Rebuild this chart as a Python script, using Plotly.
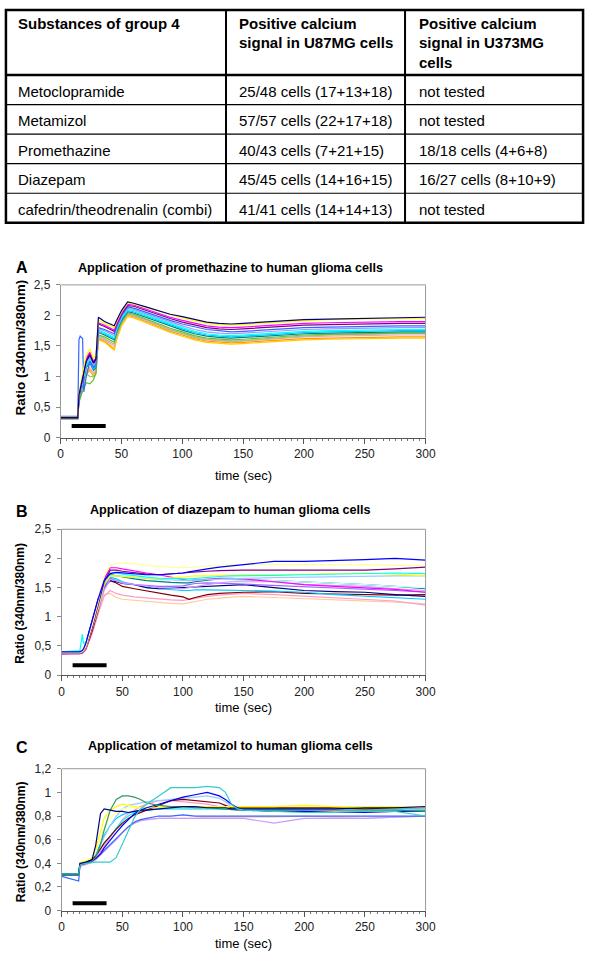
import plotly.graph_objects as go

# ---------------- table data ----------------
header_col1 = ["Substances of group 4"]
header_col2 = ["Positive calcium", "signal in U87MG cells"]
header_col3 = ["Positive calcium", "signal in U373MG", "cells"]
substances = ["Metoclopramide", "Metamizol", "Promethazine", "Diazepam",
              "cafedrin/theodrenalin (combi)"]
u87_signal = ["25/48 cells (17+13+18)", "57/57 cells (22+17+18)", "40/43 cells (7+21+15)",
              "45/45 cells (14+16+15)", "41/41 cells (14+14+13)"]
u373_signal = ["not tested", "not tested", "18/18 cells (4+6+8)", "16/27 cells (8+10+9)",
               "not tested"]

# ---------------- chart texts ----------------
panel_letters = ["A", "B", "C"]
panel_titles = ["Application of promethazine to human glioma cells",
                "Application of diazepam to human glioma cells",
                "Application of metamizol to human glioma cells"]
y_title = "Ratio (340nm/380nm)"
x_title = "time (sec)"

# application of substance (black bar): start / end time in sec, level per panel
application_window = [9, 37]
bar_levels = [0.19, 0.17, 0.062]

# ---------------- panel A: promethazine ----------------
t_A = [0, 14, 15, 16, 18, 19, 21, 24, 27, 29, 31, 36, 44, 46, 50, 55, 60, 70, 80, 90,
       100, 110, 120, 130, 140, 150, 165, 180, 200, 220, 240, 260, 280, 300]
A_orange = [0.30, 0.30, 0.60, 0.68, 0.80, 0.90, 1.05, 1.10, 1.00, 1.05, 1.62, 1.58, 1.45, 1.62, 1.85, 2.00, 1.98, 1.90, 1.82, 1.74, 1.68, 1.62, 1.58, 1.56, 1.55, 1.56, 1.58, 1.60, 1.62, 1.63, 1.64, 1.65, 1.65, 1.65]
A_gold = [0.30, 0.30, 0.62, 0.70, 0.82, 0.92, 1.08, 1.12, 1.02, 1.08, 1.60, 1.56, 1.43, 1.60, 1.83, 1.98, 1.96, 1.88, 1.80, 1.72, 1.66, 1.60, 1.56, 1.54, 1.53, 1.54, 1.56, 1.58, 1.60, 1.61, 1.62, 1.63, 1.63, 1.63]
A_rose = [0.31, 0.31, 0.60, 0.70, 0.84, 0.94, 1.10, 1.15, 1.05, 1.10, 1.64, 1.60, 1.50, 1.65, 1.87, 2.01, 1.99, 1.92, 1.84, 1.76, 1.70, 1.64, 1.60, 1.58, 1.57, 1.58, 1.60, 1.63, 1.65, 1.66, 1.67, 1.68, 1.68, 1.68]
A_lightgreen = [0.31, 0.31, 0.60, 0.70, 0.84, 0.92, 1.05, 1.00, 1.00, 1.08, 1.66, 1.62, 1.53, 1.68, 1.88, 2.02, 2.00, 1.93, 1.85, 1.77, 1.71, 1.65, 1.61, 1.59, 1.58, 1.59, 1.61, 1.64, 1.66, 1.68, 1.69, 1.70, 1.70, 1.70]
A_green = [0.31, 0.31, 0.58, 0.65, 0.75, 0.82, 0.90, 0.88, 0.95, 1.05, 1.68, 1.65, 1.56, 1.70, 1.90, 2.04, 2.02, 1.94, 1.87, 1.79, 1.73, 1.67, 1.63, 1.61, 1.60, 1.61, 1.63, 1.66, 1.68, 1.69, 1.70, 1.71, 1.71, 1.71]
A_teal = [0.32, 0.32, 0.62, 0.72, 0.86, 0.96, 1.15, 1.22, 1.10, 1.15, 1.72, 1.68, 1.60, 1.74, 1.92, 2.06, 2.04, 1.97, 1.90, 1.82, 1.76, 1.70, 1.66, 1.64, 1.63, 1.64, 1.66, 1.68, 1.70, 1.71, 1.72, 1.73, 1.73, 1.73]
A_sky = [0.31, 0.31, 0.63, 0.73, 0.88, 0.98, 1.18, 1.26, 1.12, 1.18, 1.74, 1.70, 1.62, 1.76, 1.94, 2.08, 2.06, 1.99, 1.92, 1.84, 1.78, 1.72, 1.68, 1.66, 1.65, 1.66, 1.68, 1.70, 1.72, 1.73, 1.74, 1.75, 1.75, 1.75]
A_cyan = [0.31, 0.31, 0.64, 0.74, 0.90, 1.00, 1.20, 1.30, 1.15, 1.22, 1.76, 1.72, 1.64, 1.78, 1.96, 2.10, 2.08, 2.01, 1.94, 1.86, 1.80, 1.74, 1.70, 1.68, 1.67, 1.68, 1.70, 1.72, 1.74, 1.75, 1.76, 1.77, 1.77, 1.77]
A_lavender = [0.32, 0.32, 0.65, 0.75, 0.92, 1.03, 1.22, 1.32, 1.18, 1.24, 1.78, 1.75, 1.67, 1.80, 1.98, 2.12, 2.10, 2.03, 1.96, 1.89, 1.83, 1.77, 1.73, 1.71, 1.70, 1.71, 1.73, 1.75, 1.77, 1.78, 1.79, 1.80, 1.80, 1.80]
A_blue = [0.35, 0.35, 1.60, 1.66, 1.62, 0.75, 1.00, 1.25, 1.15, 1.20, 1.80, 1.77, 1.70, 1.82, 2.00, 2.14, 2.12, 2.05, 1.99, 1.92, 1.86, 1.81, 1.77, 1.75, 1.73, 1.74, 1.76, 1.78, 1.80, 1.81, 1.82, 1.83, 1.83, 1.83]
A_purple = [0.32, 0.32, 0.66, 0.78, 0.95, 1.08, 1.28, 1.38, 1.22, 1.28, 1.86, 1.82, 1.74, 1.85, 2.02, 2.16, 2.15, 2.08, 2.02, 1.95, 1.89, 1.84, 1.80, 1.78, 1.77, 1.78, 1.80, 1.82, 1.84, 1.85, 1.86, 1.87, 1.87, 1.87]
A_magenta = [0.33, 0.33, 0.68, 0.80, 0.98, 1.10, 1.30, 1.40, 1.25, 1.30, 1.88, 1.84, 1.76, 1.87, 2.04, 2.18, 2.17, 2.10, 2.04, 1.97, 1.92, 1.87, 1.83, 1.81, 1.80, 1.81, 1.83, 1.85, 1.87, 1.88, 1.89, 1.90, 1.90, 1.90]
A_yellow = [0.34, 0.34, 0.72, 0.85, 1.05, 1.15, 1.35, 1.45, 1.30, 1.35, 1.92, 1.87, 1.80, 1.90, 2.06, 2.20, 2.19, 2.13, 2.07, 2.01, 1.96, 1.91, 1.87, 1.85, 1.84, 1.85, 1.87, 1.89, 1.91, 1.93, 1.94, 1.95, 1.95, 1.95]
A_navy = [0.33, 0.33, 0.70, 0.80, 0.95, 1.05, 1.25, 1.35, 1.22, 1.30, 1.97, 1.90, 1.83, 1.92, 2.08, 2.22, 2.20, 2.14, 2.08, 2.02, 1.98, 1.93, 1.89, 1.87, 1.86, 1.87, 1.89, 1.91, 1.93, 1.94, 1.95, 1.96, 1.97, 1.97]

# ---------------- panel B: diazepam ----------------
t_B = [0, 15, 17, 18, 20, 25, 30, 35, 40, 45, 50, 60, 70, 80, 90, 100, 105, 110, 120,
       130, 140, 150, 175, 200, 225, 250, 275, 300]
B_tan = [0.36, 0.36, 0.37, 0.39, 0.44, 0.72, 1.05, 1.38, 1.40, 1.33, 1.30, 1.28, 1.27, 1.25, 1.23, 1.22, 1.24, 1.27, 1.30, 1.32, 1.34, 1.35, 1.33, 1.31, 1.30, 1.28, 1.25, 1.22]
B_rose = [0.36, 0.36, 0.37, 0.39, 0.44, 0.70, 1.05, 1.35, 1.45, 1.40, 1.37, 1.34, 1.32, 1.30, 1.29, 1.28, 1.30, 1.32, 1.35, 1.37, 1.39, 1.40, 1.38, 1.35, 1.33, 1.30, 1.27, 1.20]
B_darkred = [0.37, 0.37, 0.38, 0.40, 0.45, 0.75, 1.10, 1.50, 1.62, 1.58, 1.52, 1.48, 1.44, 1.40, 1.37, 1.34, 1.30, 1.33, 1.38, 1.40, 1.41, 1.42, 1.43, 1.40, 1.39, 1.38, 1.37, 1.38]
B_sky = [0.40, 0.40, 0.42, 0.44, 0.50, 0.85, 1.20, 1.55, 1.68, 1.65, 1.60, 1.55, 1.50, 1.48, 1.46, 1.45, 1.45, 1.46, 1.46, 1.46, 1.46, 1.45, 1.44, 1.42, 1.38, 1.35, 1.33, 1.30]
B_navy = [0.38, 0.38, 0.40, 0.43, 0.55, 0.95, 1.30, 1.55, 1.62, 1.60, 1.57, 1.55, 1.50, 1.48, 1.49, 1.50, 1.51, 1.52, 1.52, 1.53, 1.54, 1.55, 1.50, 1.45, 1.43, 1.42, 1.38, 1.35]
B_violet = [0.38, 0.38, 0.39, 0.41, 0.47, 0.80, 1.15, 1.50, 1.66, 1.62, 1.58, 1.55, 1.53, 1.52, 1.52, 1.53, 1.55, 1.57, 1.58, 1.58, 1.57, 1.56, 1.54, 1.52, 1.50, 1.48, 1.45, 1.42]
B_lavender = [0.37, 0.37, 0.39, 0.40, 0.46, 0.78, 1.10, 1.45, 1.64, 1.62, 1.58, 1.55, 1.52, 1.50, 1.49, 1.48, 1.50, 1.52, 1.55, 1.58, 1.60, 1.60, 1.60, 1.55, 1.53, 1.52, 1.48, 1.45]
B_teal = [0.38, 0.38, 0.40, 0.42, 0.50, 0.85, 1.20, 1.55, 1.72, 1.70, 1.68, 1.65, 1.62, 1.60, 1.59, 1.58, 1.58, 1.60, 1.62, 1.65, 1.64, 1.63, 1.62, 1.60, 1.58, 1.55, 1.52, 1.48]
B_lightcyan = [0.39, 0.39, 0.41, 0.43, 0.50, 0.85, 1.22, 1.60, 1.76, 1.76, 1.74, 1.72, 1.70, 1.68, 1.66, 1.65, 1.64, 1.64, 1.64, 1.63, 1.63, 1.63, 1.62, 1.60, 1.58, 1.55, 1.52, 1.50]
B_magenta = [0.38, 0.38, 0.40, 0.42, 0.50, 0.85, 1.25, 1.65, 1.84, 1.84, 1.82, 1.78, 1.75, 1.72, 1.68, 1.65, 1.62, 1.63, 1.65, 1.66, 1.66, 1.65, 1.60, 1.55, 1.52, 1.50, 1.47, 1.42]
B_paleblue = [0.38, 0.38, 0.40, 0.42, 0.49, 0.82, 1.18, 1.55, 1.70, 1.70, 1.69, 1.68, 1.66, 1.64, 1.63, 1.62, 1.62, 1.63, 1.64, 1.65, 1.66, 1.66, 1.67, 1.68, 1.69, 1.70, 1.70, 1.70]
B_yellow = [0.38, 0.38, 0.40, 0.42, 0.48, 0.80, 1.15, 1.55, 1.70, 1.70, 1.69, 1.68, 1.66, 1.65, 1.66, 1.68, 1.69, 1.70, 1.70, 1.71, 1.72, 1.72, 1.72, 1.73, 1.74, 1.75, 1.73, 1.70]
B_cyan = [0.40, 0.42, 0.70, 0.55, 0.55, 0.85, 1.20, 1.60, 1.75, 1.75, 1.73, 1.70, 1.68, 1.66, 1.65, 1.65, 1.65, 1.66, 1.68, 1.69, 1.70, 1.70, 1.71, 1.72, 1.73, 1.75, 1.75, 1.74]
B_purple = [0.37, 0.37, 0.39, 0.41, 0.48, 0.80, 1.20, 1.60, 1.80, 1.80, 1.78, 1.75, 1.73, 1.72, 1.73, 1.75, 1.76, 1.77, 1.78, 1.79, 1.80, 1.80, 1.80, 1.80, 1.80, 1.80, 1.82, 1.85]
B_lightyellow = [0.38, 0.38, 0.40, 0.42, 0.50, 0.85, 1.25, 1.70, 1.88, 1.92, 1.92, 1.91, 1.88, 1.86, 1.85, 1.84, 1.84, 1.85, 1.87, 1.89, 1.90, 1.90, 1.90, 1.90, 1.90, 1.89, 1.88, 1.88]
B_blue = [0.40, 0.40, 0.42, 0.45, 0.55, 0.95, 1.30, 1.62, 1.74, 1.76, 1.75, 1.74, 1.72, 1.72, 1.73, 1.75, 1.77, 1.79, 1.82, 1.85, 1.87, 1.89, 1.95, 1.95, 1.96, 1.98, 2.00, 1.97]

# ---------------- panel C: metamizol ----------------
t_C = [0, 14, 15, 16, 20, 25, 28, 30, 32, 35, 40, 45, 50, 55, 60, 65, 70, 80, 90, 100,
       110, 120, 130, 135, 140, 145, 150, 175, 200, 225, 250, 275, 300]
C_tan = [0.30, 0.30, 0.37, 0.38, 0.39, 0.41, 0.43, 0.45, 0.47, 0.50, 0.55, 0.60, 0.66, 0.71, 0.74, 0.76, 0.77, 0.78, 0.78, 0.78, 0.78, 0.79, 0.79, 0.79, 0.79, 0.79, 0.79, 0.79, 0.80, 0.79, 0.78, 0.79, 0.80]
C_lavender = [0.30, 0.30, 0.37, 0.38, 0.39, 0.41, 0.43, 0.45, 0.47, 0.50, 0.55, 0.60, 0.66, 0.71, 0.74, 0.76, 0.77, 0.78, 0.78, 0.78, 0.78, 0.78, 0.78, 0.78, 0.78, 0.78, 0.78, 0.74, 0.78, 0.78, 0.78, 0.79, 0.80]
C_royal = [0.29, 0.25, 0.38, 0.39, 0.40, 0.42, 0.44, 0.46, 0.48, 0.51, 0.56, 0.61, 0.66, 0.71, 0.75, 0.77, 0.78, 0.80, 0.80, 0.81, 0.80, 0.80, 0.80, 0.80, 0.80, 0.80, 0.80, 0.80, 0.80, 0.80, 0.80, 0.80, 0.80]
C_pink = [0.30, 0.30, 0.37, 0.38, 0.39, 0.41, 0.44, 0.47, 0.50, 0.55, 0.62, 0.70, 0.77, 0.82, 0.85, 0.88, 0.90, 0.93, 0.93, 0.92, 0.91, 0.90, 0.88, 0.87, 0.86, 0.85, 0.85, 0.85, 0.84, 0.84, 0.84, 0.85, 0.85]
C_sky = [0.31, 0.31, 0.39, 0.40, 0.41, 0.43, 0.47, 0.52, 0.57, 0.64, 0.72, 0.78, 0.81, 0.83, 0.84, 0.85, 0.85, 0.86, 0.86, 0.86, 0.86, 0.86, 0.86, 0.86, 0.86, 0.86, 0.86, 0.86, 0.86, 0.86, 0.86, 0.86, 0.85]
C_cyan = [0.31, 0.31, 0.39, 0.40, 0.41, 0.43, 0.46, 0.49, 0.52, 0.57, 0.63, 0.70, 0.76, 0.80, 0.83, 0.84, 0.85, 0.86, 0.87, 0.87, 0.87, 0.87, 0.86, 0.86, 0.86, 0.86, 0.86, 0.86, 0.86, 0.86, 0.86, 0.86, 0.85]
C_lightblue = [0.31, 0.31, 0.39, 0.40, 0.41, 0.43, 0.46, 0.50, 0.55, 0.62, 0.72, 0.80, 0.86, 0.89, 0.90, 0.91, 0.92, 0.93, 0.94, 0.95, 0.96, 0.97, 0.95, 0.92, 0.88, 0.87, 0.86, 0.86, 0.86, 0.86, 0.86, 0.86, 0.86]
C_lightyellow = [0.31, 0.31, 0.40, 0.41, 0.42, 0.45, 0.50, 0.56, 0.62, 0.70, 0.78, 0.83, 0.86, 0.87, 0.87, 0.87, 0.87, 0.87, 0.87, 0.87, 0.87, 0.87, 0.87, 0.87, 0.87, 0.87, 0.87, 0.88, 0.88, 0.88, 0.88, 0.88, 0.87]
C_darkred = [0.31, 0.31, 0.39, 0.40, 0.41, 0.43, 0.46, 0.49, 0.52, 0.57, 0.63, 0.69, 0.74, 0.78, 0.81, 0.83, 0.85, 0.89, 0.93, 0.94, 0.93, 0.92, 0.91, 0.89, 0.87, 0.87, 0.87, 0.87, 0.87, 0.87, 0.86, 0.87, 0.87]
C_yellow = [0.30, 0.30, 0.40, 0.41, 0.42, 0.45, 0.52, 0.60, 0.68, 0.78, 0.85, 0.88, 0.90, 0.89, 0.88, 0.87, 0.87, 0.87, 0.88, 0.88, 0.88, 0.88, 0.88, 0.88, 0.88, 0.88, 0.88, 0.88, 0.89, 0.88, 0.88, 0.88, 0.87]
C_blue = [0.30, 0.30, 0.38, 0.39, 0.40, 0.42, 0.44, 0.46, 0.48, 0.53, 0.60, 0.66, 0.72, 0.77, 0.82, 0.85, 0.87, 0.90, 0.93, 0.96, 0.98, 1.00, 0.97, 0.94, 0.90, 0.87, 0.85, 0.84, 0.84, 0.83, 0.83, 0.84, 0.84]
C_teal = [0.30, 0.30, 0.39, 0.40, 0.41, 0.42, 0.45, 0.50, 0.56, 0.68, 0.85, 0.94, 0.97, 0.97, 0.96, 0.94, 0.91, 0.89, 0.88, 0.88, 0.87, 0.87, 0.86, 0.86, 0.85, 0.85, 0.85, 0.85, 0.85, 0.85, 0.85, 0.85, 0.84]
C_navy = [0.31, 0.31, 0.40, 0.40, 0.41, 0.43, 0.55, 0.70, 0.82, 0.86, 0.85, 0.84, 0.84, 0.83, 0.84, 0.85, 0.85, 0.86, 0.87, 0.88, 0.88, 0.87, 0.87, 0.87, 0.86, 0.86, 0.86, 0.86, 0.86, 0.86, 0.87, 0.87, 0.88]
C_turquoise = [0.31, 0.31, 0.38, 0.39, 0.40, 0.41, 0.41, 0.41, 0.41, 0.41, 0.41, 0.45, 0.56, 0.68, 0.79, 0.86, 0.90, 0.97, 1.04, 1.04, 1.04, 1.05, 1.04, 1.00, 0.90, 0.86, 0.85, 0.84, 0.83, 0.83, 0.84, 0.84, 0.80]

# ---------------- assemble ----------------
series_A = [("#FF9900", A_orange), ("#FFCC00", A_gold), ("#FF99CC", A_rose),
            ("#99CC66", A_lightgreen), ("#66BB33", A_green), ("#008080", A_teal),
            ("#00CCFF", A_sky), ("#00FFFF", A_cyan), ("#9999FF", A_lavender),
            ("#3366FF", A_blue), ("#800080", A_purple), ("#FF00FF", A_magenta),
            ("#FFFF00", A_yellow), ("#000080", A_navy)]
series_B = [("#FFCC99", B_tan), ("#FF99CC", B_rose), ("#800000", B_darkred),
            ("#00CCFF", B_sky), ("#000080", B_navy), ("#9966FF", B_violet),
            ("#CC99FF", B_lavender), ("#008080", B_teal), ("#CCFFFF", B_lightcyan),
            ("#FF00FF", B_magenta), ("#99CCFF", B_paleblue), ("#FFFF00", B_yellow),
            ("#00FFFF", B_cyan), ("#800080", B_purple), ("#FFFF99", B_lightyellow),
            ("#0000FF", B_blue)]
series_C = [("#FFCC99", C_tan), ("#CC99FF", C_lavender), ("#3366FF", C_royal),
            ("#FF99CC", C_pink), ("#00CCFF", C_sky), ("#00FFFF", C_cyan),
            ("#99CCFF", C_lightblue), ("#FFFF99", C_lightyellow), ("#800000", C_darkred),
            ("#FFFF00", C_yellow), ("#0000FF", C_blue), ("#339966", C_teal),
            ("#000080", C_navy), ("#33CCCC", C_turquoise)]

W, H = 596, 960
FONT = "Liberation Sans, Arial, Helvetica, sans-serif"


def px(x):
    return x / W


def py(y):
    return 1 - y / H


fig = go.Figure()

panels = [
    dict(xa="x", ya="y", t=t_A, series=series_A, ymax=2.5, dy=0.5,
         x0=59, x1=432, y0=282, y1=437, title_y=265, letter_y=264, xlab_y=475,
         ylab_c=346, ylab_size=13.5),
    dict(xa="x2", ya="y2", t=t_B, series=series_B, ymax=2.5, dy=0.5,
         x0=60, x1=432, y0=530, y1=678, title_y=510, letter_y=512, xlab_y=711,
         ylab_c=605, ylab_size=12),
    dict(xa="x3", ya="y3", t=t_C, series=series_C, ymax=1.2, dy=0.2,
         x0=60, x1=432, y0=773, y1=917, title_y=750, letter_y=751, xlab_y=950,
         ylab_c=847, ylab_size=12),
]

annotations = []
shapes = []


def note(text, x, y, size, xanchor="center", angle=0):
    annotations.append(dict(text=text, x=px(x), y=py(y), xref="paper", yref="paper",
                            showarrow=False, xanchor=xanchor, yanchor="middle",
                            textangle=angle,
                            font=dict(family=FONT, size=size, color="black")))


for i, p in enumerate(panels):
    for color, vals in p["series"]:
        assert len(vals) == len(p["t"])
        fig.add_trace(go.Scatter(x=p["t"], y=vals, mode="lines", xaxis=p["xa"], yaxis=p["ya"],
                                 line=dict(color=color, width=1.2), showlegend=False,
                                 hoverinfo="skip"))
    fig.add_trace(go.Scatter(x=application_window, y=[bar_levels[i]] * 2, mode="lines",
                             xaxis=p["xa"], yaxis=p["ya"], line=dict(color="black", width=4),
                             showlegend=False, hoverinfo="skip"))
    suffix = "" if i == 0 else str(i + 1)
    xdom = [px(p["x0"]), px(p["x1"])]
    ydom = [py(p["y1"]), py(p["y0"])]
    fig.layout["xaxis" + suffix] = dict(
        domain=xdom, anchor=p["ya"], range=[0, 300], dtick=50, tick0=0,
        showgrid=False, zeroline=False, showline=True, linecolor="#555", linewidth=1,
        ticks="outside", ticklen=5, tickcolor="#555",
        minor=dict(ticks="outside", ticklen=2, dtick=5, tickcolor="#777"),
        tickfont=dict(family=FONT, size=12, color="#222"), fixedrange=True)
    fig.layout["yaxis" + suffix] = dict(
        domain=ydom, anchor=p["xa"], range=[0, p["ymax"]], dtick=p["dy"], tick0=0,
        showgrid=False, zeroline=False, showline=True, linecolor="#999", linewidth=1,
        ticks="outside", ticklen=4, tickcolor="#888", ticklabelstandoff=3,
        tickfont=dict(family=FONT, size=12, color="#222"), fixedrange=True)
    shapes.append(dict(type="line", xref=p["xa"] + " domain", yref=p["ya"] + " domain",
                       x0=0, x1=1, y0=1, y1=1, line=dict(color="#999", width=1)))
    shapes.append(dict(type="line", xref=p["xa"] + " domain", yref=p["ya"] + " domain",
                       x0=1, x1=1, y0=0, y1=1, line=dict(color="#999", width=1)))
    note("<b>%s</b>" % panel_letters[i], 19, p["letter_y"], 16)
    note("<b>%s</b>" % panel_titles[i], 233, p["title_y"], 12.6)
    note("<b>%s</b>" % y_title, 18, p["ylab_c"], p["ylab_size"], angle=-90)
    note(x_title, 246, p["xlab_y"], 13)

# ---------------- table ----------------
TX0, TX1, TY0, TY1 = 3, 593, 3, 219
col_x = [TX0, 228, 411, TX1]
row_y = [69, 99, 129, 159, 189, TY1]
shapes.append(dict(type="rect", xref="paper", yref="paper", x0=px(TX0), x1=px(TX1),
                   y0=py(TY1), y1=py(TY0), line=dict(color="black", width=2.5)))
for cx in col_x[1:3]:
    shapes.append(dict(type="line", xref="paper", yref="paper", x0=px(cx), x1=px(cx),
                       y0=py(TY1), y1=py(TY0), line=dict(color="black", width=2)))
shapes.append(dict(type="line", xref="paper", yref="paper", x0=px(TX0), x1=px(TX1),
                   y0=py(row_y[0]), y1=py(row_y[0]), line=dict(color="black", width=2.5)))
for ry in row_y[1:-1]:
    shapes.append(dict(type="line", xref="paper", yref="paper", x0=px(TX0), x1=px(TX1),
                       y0=py(ry), y1=py(ry), line=dict(color="black", width=1.2)))

text_x = [13, 239, 423]
for c, lines in enumerate([header_col1, header_col2, header_col3]):
    for k, line in enumerate(lines):
        note("<b>%s</b>" % line, text_x[c], 17 + 19.5 * k, 15, xanchor="left")
for r in range(len(substances)):
    yc = (row_y[r] + row_y[r + 1]) / 2 + 1.5
    for c, col in enumerate([substances, u87_signal, u373_signal]):
        note(col[r], text_x[c], yc, 15, xanchor="left")

fig.update_layout(width=W, height=H, margin=dict(l=0, r=0, t=0, b=0),
                  paper_bgcolor="white", plot_bgcolor="white", separators=", ",
                  annotations=annotations, shapes=shapes,
                  font=dict(family=FONT, color="black"))

fig.write_html("out.html",
               config={"displayModeBar": False, "responsive": False},
               post_script="document.documentElement.style.margin='0';"
                           "document.documentElement.style.padding='0';"
                           "document.body.style.margin='0';"
                           "document.body.style.padding='0';"
                           "document.documentElement.style.overflow='hidden';"
                           "document.body.style.overflow='hidden';")
